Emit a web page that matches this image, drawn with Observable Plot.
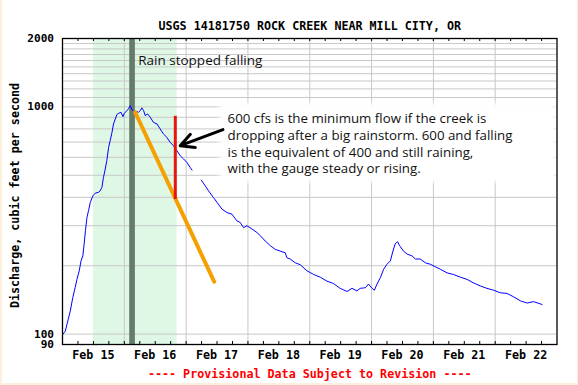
<!DOCTYPE html>
<html>
<head>
<meta charset="utf-8">
<script src="https://cdn.jsdelivr.net/npm/d3@7"></script>
<script src="https://cdn.jsdelivr.net/npm/@observablehq/plot@0.6"></script>
<style>
html, body { margin: 0; padding: 0; background: #fdf1de; }
#wrap { position: relative; width: 578px; height: 385px; overflow: hidden; }
#paper { position: absolute; left: 2px; top: 0; width: 575px; height: 383px; background: #ffffff; }
#chart { position: absolute; left: 0; top: 0; }
</style>
</head>
<body>
<div id="wrap"><div id="paper"></div><div id="chart"></div></div>
<script>
// ---- text ----
const title = "USGS 14181750 ROCK CREEK NEAR MILL CITY, OR";
const yLabel = "Discharge, cubic feet per second";
const footer = "---- Provisional Data Subject to Revision ----";
const dayLabels = ["Feb 15", "Feb 16", "Feb 17", "Feb 18", "Feb 19", "Feb 20", "Feb 21", "Feb 22"];
const yTickValues = [90, 100, 1000, 2000];
const yTickLabels = ["90", "100", "1000", "2000"];
const gridValues = [100, 200, 300, 400, 500, 600, 700, 800, 900,
  1000, 1100, 1200, 1300, 1400, 1500, 1600, 1700, 1800, 1900, 2000];
const rainLabel = "Rain stopped falling";
const noteText = "600 cfs is the minimum flow if the creek is\ndropping after a big rainstorm. 600 and falling\nis the equivalent of 400 and still raining,\nwith the gauge steady or rising.";

// ---- discharge series: hours after Feb 15 00:00, cfs (null = missing) ----
const hours = [0.2, 1.1, 1.7, 3.0, 4.0, 4.9, 5.6, 6.5, 7.2, 7.9,
  8.4, 8.9, 9.5, 10.1, 10.8, 11.8, 12.7, 14.0, 14.6, 15.3,
  15.9, 16.6, 17.2, 17.9, 18.5, 19.2, 19.8, 20.5, 21.1, 21.8,
  22.7, 23.5, 24.0, 25.0, 25.6, 26.3, 27.0, 27.6, 28.6, 29.5,
  30.2, 30.8, 31.5, 32.1, 33.0, 34.1, 35.3, 36.7, 37.9, 39.2,
  40.5, 41.8, 43.1, 44.4, 45.7, 47.0, 48.3, 49.6, 50.3,
  52.0,
  53.9, 55.4, 56.7, 58.6, 60.0, 61.9, 63.8, 65.8, 67.7, 69.0,
  70.3, 71.6, 73.6, 75.5, 76.8, 78.7, 80.7, 82.6, 84.5, 86.5,
  87.1, 88.4, 90.4, 92.3, 94.9, 97.5, 100.1, 102.7, 105.2, 107.8,
  110.5, 112.4, 114.3, 115.6, 117.6, 118.8, 120.2, 121.1, 122.1, 123.4,
  124.7, 126.0, 127.3, 128.3, 129.2, 130.1, 130.9, 132.4, 133.8, 135.7,
  137.0, 138.9, 140.9, 142.8, 144.7, 146.7, 149.3, 151.8, 154.5, 157.1,
  159.6, 162.2, 164.8, 167.4, 170.0, 172.6, 175.1, 177.8, 180.4, 182.9,
  186.2];
const cfs = [100, 103, 110, 126, 145, 160, 174, 190, 210, 221,
  249, 285, 326, 349, 380, 406, 417, 421, 427, 442,
  489, 533, 580, 663, 710, 770, 841, 885, 925, 937,
  947, 906, 937, 963, 980, 1013, 970, 956, 956, 947,
  963, 990, 963, 916, 931, 900, 855, 841, 800, 760,
  735, 698, 675, 642, 610, 590, 570, 541, 527,
  null,
  476, 450, 427, 399, 380, 355, 343, 337, 315, 310,
  294, 300, 290, 280, 271, 257, 245, 236, 232, 228,
  217, 214, 206, 202, 190, 183, 178, 171, 167, 159,
  154, 159, 155, 159, 160, 166, 159, 156, 166, 177,
  193, 203, 210, 232, 250, 255, 245, 232, 225, 221,
  214, 214, 206, 203, 198, 193, 186, 183, 178, 174,
  168, 163, 159, 156, 152, 151, 146, 140, 137, 139,
  135];

// ---- annotation values (hours, cfs) ----
const rainBandHours = [12.0, 44.5];
const rainStopHours = [26.1, 28.3];
const orangeHours = [28.2, 58.9];
const orangeCfs = [947, 170];
const redHour = 43.8;
const redCfs = [909, 391];
const arrowHours = [62.3, 45.7];
const arrowCfs = [794, 675];
const rainLabelAt = [29.4, 1600];
const noteAt = [64.1, 694];
const noteBoxHours = [61.2, 191.5];
const noteBoxCfs = [464, 1034];

// ---- build ----
const t0 = Date.UTC(2016, 1, 15);
const toDate = h => new Date(t0 + h * 3600e3);
const flow = hours.map((h, i) => ({date: toDate(h), cfs: cfs[i]}));
const midnights = [1, 2, 3, 4, 5, 6, 7].map(d => toDate(d * 24));
const noons = dayLabels.map((_, i) => ({date: toDate(i * 24 + 12), label: dayLabels[i]}));
const sixHours = d3.range(1, 32).map(k => toDate(k * 6));
const yTicks = yTickValues.map((v, i) => ({v, label: yTickLabels[i]}));

const W = 578, H = 385, mT = 38, mB = 41, mL = 62, mR = 21.5;
const frameH = H - mT - mB;
const mono = "'DejaVu Sans Mono', monospace";
const sans = "'Open Sans', Lato, sans-serif";
const monoStyle = {fontFamily: mono, fontWeight: "bold", fontSize: 11.7, fill: "black"};

const chart = Plot.plot({
  width: W, height: H,
  marginTop: mT, marginBottom: mB, marginLeft: mL, marginRight: mR,
  style: {background: "transparent", overflow: "visible"},
  x: {type: "utc", domain: [toDate(0), toDate(192)], axis: null},
  y: {type: "log", domain: [90, 2000], axis: null},
  marks: [
    Plot.rect([{a: toDate(rainBandHours[0]), b: toDate(rainBandHours[1])}],
      {x1: "a", x2: "b", y1: () => 90, y2: () => 2000, fill: "#dff7e5"}),
    Plot.ruleY(gridValues, {stroke: "#c8c8c8", strokeWidth: 1}),
    Plot.ruleX(midnights, {stroke: "#c8c8c8", strokeWidth: 1}),
    Plot.ruleX(sixHours, {y1: () => 2000, y2: () => 90, insetTop: frameH - 3, stroke: "black"}),
    Plot.ruleX(sixHours, {y1: () => 2000, y2: () => 90, insetBottom: frameH - 3, stroke: "black"}),
    Plot.rect([{a: toDate(rainStopHours[0]), b: toDate(rainStopHours[1])}],
      {x1: "a", x2: "b", y1: () => 90, y2: () => 2000, fill: "#667b6b"}),
    Plot.line(flow, {x: "date", y: "cfs", stroke: "#0000ff", strokeWidth: 1}),
    Plot.line(orangeHours.map((h, i) => ({date: toDate(h), cfs: orangeCfs[i]})),
      {x: "date", y: "cfs", stroke: "#f5a000", strokeWidth: 4}),
    Plot.ruleX([{date: toDate(redHour), a: redCfs[0], b: redCfs[1]}],
      {x: "date", y1: "a", y2: "b", stroke: "#e5170c", strokeWidth: 3}),
    Plot.rect([{a: toDate(noteBoxHours[0]), b: toDate(noteBoxHours[1]), c: noteBoxCfs[0], d: noteBoxCfs[1]}],
      {x1: "a", x2: "b", y1: "c", y2: "d", fill: "white", ariaDescription: "notebg"}),
    Plot.arrow([{x1: toDate(arrowHours[0]), y1: arrowCfs[0], x2: toDate(arrowHours[1]), y2: arrowCfs[1]}],
      {x1: "x1", y1: "y1", x2: "x2", y2: "y2", stroke: "black", strokeWidth: 3, headLength: 12, headAngle: 55}),
    Plot.text([noteText], {x: () => toDate(noteAt[0]), y: () => noteAt[1], text: d => d,
      textAnchor: "start", lineAnchor: "middle", lineHeight: 1.26,
      fontFamily: sans, fontSize: 13.3, fill: "#111111"}),
    Plot.text([rainLabel], {x: () => toDate(rainLabelAt[0]), y: () => rainLabelAt[1], text: d => d,
      textAnchor: "start", fontFamily: sans, fontSize: 13.5, fill: "#111111"}),
    Plot.frame({stroke: "black", strokeWidth: 1.3}),
    Plot.text(yTicks, {y: "v", text: "label", frameAnchor: "left", dx: -8.5, textAnchor: "end",
      ...monoStyle, fontSize: 11.1}),
    Plot.text(noons, {x: "date", text: "label", frameAnchor: "bottom", dy: 14, ...monoStyle}),
    Plot.text([title], {text: d => d, frameAnchor: "top", dy: -17, ...monoStyle}),
    Plot.text([footer], {text: d => d, frameAnchor: "bottom", dy: 33, ...monoStyle, fill: "#ff0000"}),
    Plot.text([yLabel], {text: d => d, frameAnchor: "left", dx: -47, dy: 4, rotate: -90,
      textAnchor: "middle", ...monoStyle})
  ]
});

// soften the note background edges
const ns = "http://www.w3.org/2000/svg";
const defs = document.createElementNS(ns, "defs");
const filter = document.createElementNS(ns, "filter");
filter.setAttribute("id", "soft");
filter.setAttribute("x", "-10%"); filter.setAttribute("y", "-20%");
filter.setAttribute("width", "120%"); filter.setAttribute("height", "140%");
const blur = document.createElementNS(ns, "feGaussianBlur");
blur.setAttribute("stdDeviation", "2");
filter.appendChild(blur);
defs.appendChild(filter);
chart.insertBefore(defs, chart.firstChild);
const bg = chart.querySelector('[aria-description="notebg"]');
if (bg) bg.setAttribute("filter", "url(#soft)");

document.getElementById("chart").appendChild(chart);
</script>
</body>
</html>
